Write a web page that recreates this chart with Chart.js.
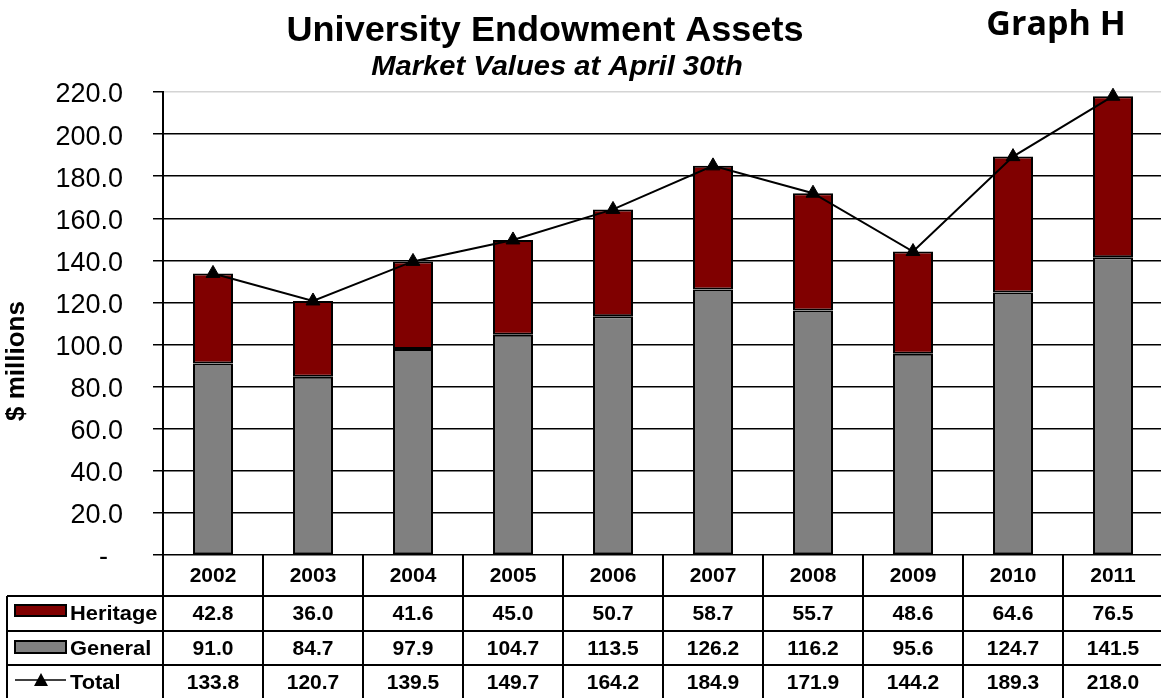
<!DOCTYPE html>
<html>
<head>
<meta charset="utf-8">
<title>University Endowment Assets</title>
<script src="https://cdn.jsdelivr.net/npm/chart.js@4.4.1/dist/chart.umd.min.js"></script>
<style>
  html, body { margin: 0; padding: 0; background: #fff; overflow: hidden; }
  #wrap { width: 1172px; height: 698px; }
  canvas { display: block; }
</style>
</head>
<body>
<div id="wrap"><canvas id="endowChart" width="1172" height="698"></canvas></div>
<script>
// Data
const years = ["2002", "2003", "2004", "2005", "2006", "2007", "2008", "2009", "2010", "2011"]
const heritage = [42.8, 36.0, 41.6, 45.0, 50.7, 58.7, 55.7, 48.6, 64.6, 76.5]
const general = [91.0, 84.7, 97.9, 104.7, 113.5, 126.2, 116.2, 95.6, 124.7, 141.5]
const total = [133.8, 120.7, 139.5, 149.7, 164.2, 184.9, 171.9, 144.2, 189.3, 218.0]
const yMax = 220
const yStep = 20

const seriesNames = ["Heritage", "General", "Total"]
const heritageColor = "#800000"
const generalColor = "#808080"

const FONT = "'Liberation Sans', Arial, Helvetica, sans-serif"
Chart.defaults.font.family = FONT
Chart.defaults.color = "#000"

// draw text stretched horizontally
function stretchText(ctx, text, x, y, sx) {
  ctx.save()
  ctx.translate(x, y)
  ctx.scale(sx, 1)
  ctx.fillText(text, 0, 0)
  ctx.restore()
}

// Titles, axis label, and the data table under the plot
const decorPlugin = {
  id: "decor",
  afterDraw(chart) {
    const ctx = chart.ctx
    const area = chart.chartArea
    const xs = chart.scales.x
    const colW = (area.right - area.left) / years.length

    ctx.save()
    ctx.fillStyle = "#000"

    // titles
    ctx.textAlign = "center"
    ctx.textBaseline = "alphabetic"
    ctx.font = "bold 35px " + FONT
    stretchText(ctx, "University Endowment Assets", 545, 41, 1.03)
    ctx.font = "italic bold 27px " + FONT
    stretchText(ctx, "Market Values at April 30th", 557, 75, 1.08)
    ctx.font = "bold 34px 'Open Sans', 'DejaVu Sans', sans-serif"
    ctx.fillText("Graph H", 1056, 35)

    // y axis title
    ctx.save()
    ctx.translate(17, 361)
    ctx.rotate(-Math.PI / 2)
    ctx.textBaseline = "middle"
    ctx.font = "bold 26px " + FONT
    ctx.fillText("$ millions", 0, 0)
    ctx.restore()

    // table grid
    const top = area.bottom
    const rows = [top, 596, 631, 665, 700]
    const legendLeft = 7
    ctx.strokeStyle = "#000"
    ctx.lineWidth = 2
    ctx.beginPath()
    for (let i = 0; i <= years.length; i++) {
      const x = Math.round(area.left + i * colW)
      ctx.moveTo(x, top)
      ctx.lineTo(x, 698)
    }
    for (let r = 1; r < rows.length; r++) {
      ctx.moveTo(legendLeft, rows[r])
      ctx.lineTo(area.right, rows[r])
    }
    ctx.moveTo(legendLeft, rows[1])
    ctx.lineTo(legendLeft, 698)
    ctx.stroke()

    // table values
    ctx.textAlign = "center"
    ctx.textBaseline = "middle"
    ctx.font = "bold 21px " + FONT
    const tableRows = [years, heritage, general, total]
    tableRows.forEach((vals, r) => {
      const cy = (rows[r] + rows[r + 1]) / 2 + 1
      vals.forEach((v, i) => {
        const label = typeof v === "number" ? v.toFixed(1) : v
        ctx.fillText(label, xs.getPixelForValue(i), cy)
      })
    })

    // legend keys
    ctx.lineWidth = 2
    ctx.fillStyle = heritageColor
    ctx.fillRect(15, 605, 51, 11)
    ctx.strokeRect(15, 605, 51, 11)
    ctx.fillStyle = generalColor
    ctx.fillRect(15, 641, 51, 12)
    ctx.strokeRect(15, 641, 51, 12)
    ctx.lineWidth = 1.5
    ctx.beginPath()
    ctx.moveTo(15, 680)
    ctx.lineTo(66, 680)
    ctx.stroke()
    ctx.fillStyle = "#000"
    ctx.beginPath()
    ctx.moveTo(41, 673)
    ctx.lineTo(48, 686)
    ctx.lineTo(34, 686)
    ctx.closePath()
    ctx.fill()

    ctx.textAlign = "left"
    ctx.font = "bold 21px " + FONT
    seriesNames.forEach((name, r) => {
      stretchText(ctx, name, 70, (rows[r + 1] + rows[r + 2]) / 2 + 1, 1.04)
    })

    ctx.restore()
  },
}

const chart = new Chart(document.getElementById("endowChart"), {
  data: {
    labels: years,
    datasets: [
      {
        type: "line",
        label: "Total",
        data: total,
        stack: "total",
        order: 0,
        borderColor: "#000",
        borderWidth: 2,
        tension: 0,
        pointStyle: "triangle",
        pointRadius: 8,
        pointBackgroundColor: "#000",
        pointBorderColor: "#000",
        pointBorderWidth: 1,
        clip: false,
      },
      {
        type: "bar",
        label: "General",
        data: general,
        stack: "assets",
        order: 1,
        backgroundColor: generalColor,
        borderColor: "#000",
        borderWidth: 2,
        borderSkipped: false,
        barPercentage: 0.4,
        categoryPercentage: 1.0,
      },
      {
        type: "bar",
        label: "Heritage",
        data: heritage,
        stack: "assets",
        order: 1,
        backgroundColor: heritageColor,
        borderColor: "#000",
        borderWidth: 2,
        borderSkipped: false,
        barPercentage: 0.4,
        categoryPercentage: 1.0,
      },
    ],
  },
  options: {
    responsive: false,
    animation: false,
    devicePixelRatio: 1,
    layout: { padding: { top: 92, right: 4, left: 0, bottom: 0 } },
    plugins: {
      legend: { display: false },
      tooltip: { enabled: false },
    },
    scales: {
      x: {
        stacked: true,
        grid: { display: false },
        border: { display: false },
        ticks: { display: false },
        afterFit: (scale) => {
          scale.height = 143
        },
      },
      y: {
        stacked: true,
        min: 0,
        max: yMax,
        border: { color: "#000", width: 2 },
        grid: {
          color: (c) => (c.tick && c.tick.value === yMax ? "#d4d4d4" : "#000"),
          tickColor: "#000",
          lineWidth: 1.5,
          tickLength: 10,
        },
        ticks: {
          stepSize: yStep,
          padding: 30,
          labelOffset: 3,
          color: "#000",
          font: { size: 27 },
          callback: (value) => (value === 0 ? "-  " : value.toFixed(1)),
        },
        afterFit: (scale) => {
          scale.width = 163
        },
      },
    },
  },
  plugins: [decorPlugin],
})
</script>
</body>
</html>
